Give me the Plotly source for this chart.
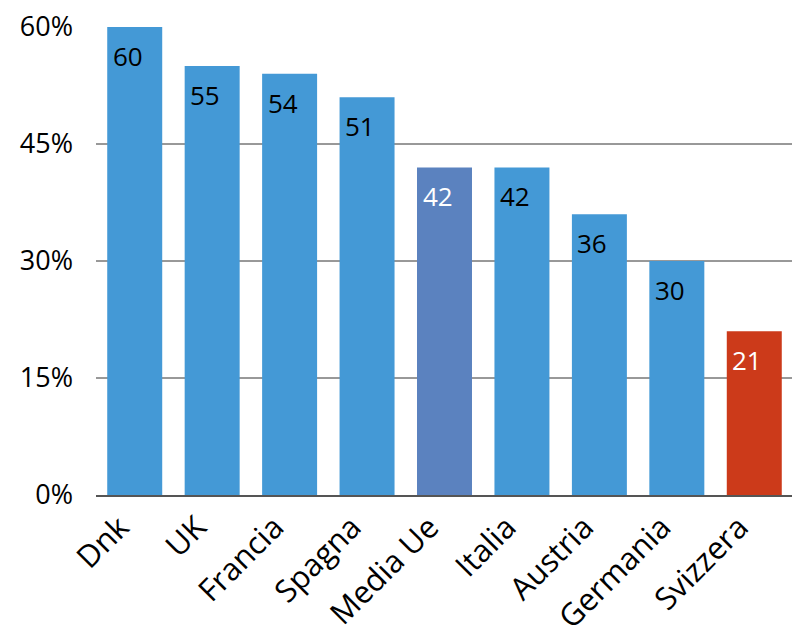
import plotly.graph_objects as go

categories = ["Dnk", "UK", "Francia", "Spagna", "Media Ue", "Italia", "Austria", "Germania", "Svizzera"]
values = [60, 55, 54, 51, 42, 42, 36, 30, 21]
bar_colors = ["#4499d6", "#4499d6", "#4499d6", "#4499d6", "#5b82bf", "#4499d6", "#4499d6", "#4499d6", "#cc3a1a"]
text_colors = ["black", "black", "black", "black", "white", "black", "black", "black", "white"]
y_ticks = [0, 15, 30, 45, 60]
y_ticktext = ["0%", "15%", "30%", "45%", "60%"]
grid_values = [15, 30, 45]

FONT = "Open Sans"

fig = go.Figure()
fig.add_trace(go.Bar(
    x=categories,
    y=values,
    marker=dict(color=bar_colors, line=dict(width=0)),
    width=0.71,
    hoverinfo="skip",
))

annotations = []
for c, v, tc in zip(categories, values, text_colors):
    annotations.append(dict(
        x=c, y=v, xref="x", yref="y", text=str(v), showarrow=False,
        yanchor="top", xanchor="center", yshift=-9, xshift=-7,
        font=dict(family=FONT, size=26, color=tc),
    ))

shapes = []
for g in grid_values:
    shapes.append(dict(type="line", xref="paper", yref="y", x0=0, x1=1, y0=g, y1=g,
                       line=dict(color="#333333", width=1), layer="below"))

fig.update_layout(
    width=792, height=632,
    margin=dict(l=88, r=7, t=19, b=145),
    paper_bgcolor="white", plot_bgcolor="white",
    showlegend=False,
    shapes=shapes,
    annotations=annotations,
    font=dict(family=FONT, color="black"),
    xaxis=dict(
        tickangle=-45,
        tickfont=dict(family=FONT, size=31, color="black"),
        showline=True, linecolor="#555555", linewidth=1.5,
        ticks="", showgrid=False, automargin=False,
        ticklabelshift=-15,
    ),
    yaxis=dict(
        range=[0, 60],
        tickvals=y_ticks, ticktext=y_ticktext,
        tickfont=dict(family=FONT, size=27, color="black"),
        showgrid=False, zeroline=False, showline=False,
        ticks="", ticklabelstandoff=22, automargin=False,
        ticklabeloverflow="allow",
    ),
)

fig.write_html("out.html")
